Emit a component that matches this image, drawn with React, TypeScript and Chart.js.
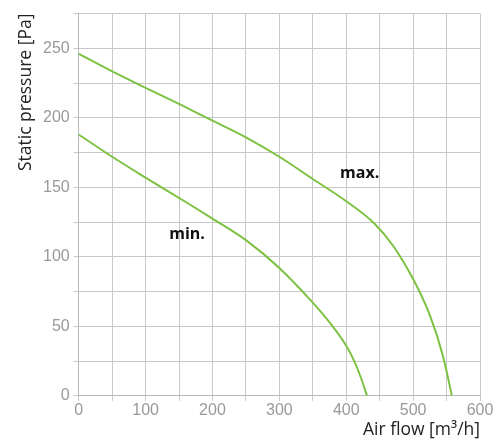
import React, { useEffect, useRef } from "react";
import { Chart, registerables } from "chart.js";

Chart.register(...registerables);

const maxFlow = [0, 50, 100, 150, 200, 250, 300, 350, 400, 442, 470, 500, 525, 545, 558];
const maxPressure = [246, 233.5, 221.5, 210, 198, 186, 172, 156, 140, 124, 108, 84, 58, 28, 0];
const minFlow = [0, 50, 100, 165, 200, 250, 300, 350, 378, 400, 412, 422, 431];
const minPressure = [188, 172, 157, 138, 127.5, 112, 92, 67, 51, 36, 25, 13, 0];
const curveLabels = [
  { text: "max.", x: 420, y: 160 },
  { text: "min.", x: 162, y: 116 },
];

const GREEN = "#7dc242";

export default function App() {
  const ref = useRef<HTMLCanvasElement | null>(null);
  useEffect(() => {
    document.body.style.margin = "0";
    const labelPlugin = {
      id: "curveLabels",
      afterDatasetsDraw(chart: any) {
        const { ctx, scales } = chart;
        ctx.save();
        ctx.font = "bold 16px 'Open Sans'";
        ctx.fillStyle = "#111";
        ctx.textAlign = "center";
        ctx.textBaseline = "middle";
        for (const l of curveLabels) {
          ctx.fillText(l.text, scales.x.getPixelForValue(l.x), scales.y.getPixelForValue(l.y));
        }
        ctx.restore();
      },
    };
    const chart = new Chart(ref.current!, {
      type: "line",
      data: {
        datasets: [
          {
            label: "max.",
            data: maxFlow.map((x, i) => ({ x, y: maxPressure[i] })),
            borderColor: GREEN,
            borderWidth: 2,
            pointRadius: 0,
            cubicInterpolationMode: "monotone",
          },
          {
            label: "min.",
            data: minFlow.map((x, i) => ({ x, y: minPressure[i] })),
            borderColor: GREEN,
            borderWidth: 2,
            pointRadius: 0,
            cubicInterpolationMode: "monotone",
          },
        ],
      },
      options: {
        animation: false,
        responsive: false,
        layout: { padding: { top: 9, right: 22, bottom: -1, left: 16 } },
        plugins: { legend: { display: false }, tooltip: { enabled: false } },
        scales: {
          x: {
            type: "linear",
            min: 0,
            max: 600,
            border: { color: "#b8b8b8" },
            grid: { color: "#c8c8c8", tickLength: 5 },
            ticks: {
              stepSize: 50,
              color: "#999",
              font: { family: "'Liberation Sans'", size: 16 },
              maxRotation: 0,
              padding: 0,
              callback: (v: any) => (Number(v) % 100 === 0 ? String(v) : ""),
            },
            title: {
              display: true,
              text: "Air flow [m³/h]",
              align: "end",
              color: "#222",
              font: { family: "'Open Sans'", size: 17.5 },
              padding: { top: 0, bottom: 0 },
            },
          },
          y: {
            min: 0,
            max: 275,
            border: { color: "#b8b8b8" },
            grid: { color: "#c8c8c8", tickLength: 5 },
            ticks: {
              stepSize: 25,
              color: "#999",
              font: { family: "'Liberation Sans'", size: 16 },
              padding: 4,
              callback: (v: any) => (Number(v) % 50 === 0 ? String(v) : ""),
            },
            title: {
              display: true,
              text: "Static pressure [Pa]",
              align: "end",
              color: "#222",
              font: { family: "'Open Sans'", size: 17.5 },
              padding: { top: 0, bottom: 2 },
            },
          },
        },
      },
      plugins: [labelPlugin],
    } as any);
    return () => chart.destroy();
  }, []);
  return (
    <div style={{ width: 502, height: 440 }}>
      <canvas ref={ref} width={502} height={440} />
    </div>
  );
}
